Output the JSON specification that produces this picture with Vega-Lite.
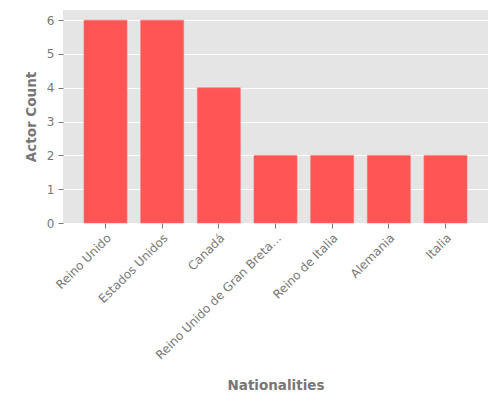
{
  "$schema": "https://vega.github.io/schema/vega-lite/v6.json",
  "width": 425,
  "height": 213,
  "padding": {"left": 24, "top": 10, "right": 10, "bottom": 5},
  "background": "white",
  "data": {
    "values": [
      {"nationality": "Reino Unido", "count": 6},
      {"nationality": "Estados Unidos", "count": 6},
      {"nationality": "Canadá", "count": 4},
      {"nationality": "Reino Unido de Gran Breta...", "count": 2},
      {"nationality": "Reino de Italia", "count": 2},
      {"nationality": "Alemania", "count": 2},
      {"nationality": "Italia", "count": 2}
    ]
  },
  "mark": {"type": "bar", "color": "#FF5555", "stroke": "#FF7777", "strokeWidth": 0.6},
  "encoding": {
    "x": {
      "field": "nationality",
      "type": "nominal",
      "sort": null,
      "scale": {"paddingInner": 0.24, "paddingOuter": 0.37},
      "axis": {
        "title": "Nationalities",
        "labelAngle": -45,
        "labelAlign": "right",
        "labelBaseline": "top",
        "labelPadding": 4,
        "titlePadding": 18,
        "grid": false
      }
    },
    "y": {
      "field": "count",
      "type": "quantitative",
      "scale": {"domain": [0, 6.3], "nice": false},
      "axis": {
        "title": "Actor Count",
        "values": [0, 1, 2, 3, 4, 5, 6],
        "format": "d",
        "titlePadding": 8,
        "labelPadding": 4,
        "grid": true
      }
    }
  },
  "config": {
    "font": "DejaVu Sans",
    "view": {"fill": "#E5E5E5", "stroke": null},
    "axis": {
      "domain": false,
      "gridColor": "white",
      "gridWidth": 1,
      "tickColor": "#777777",
      "tickSize": 5,
      "labelColor": "#777777",
      "labelFontSize": 12,
      "labelFont": "DejaVu Sans",
      "titleColor": "#777777",
      "titleFontSize": 13.5,
      "titleFont": "DejaVu Sans",
      "titleFontWeight": "bold"
    }
  }
}
